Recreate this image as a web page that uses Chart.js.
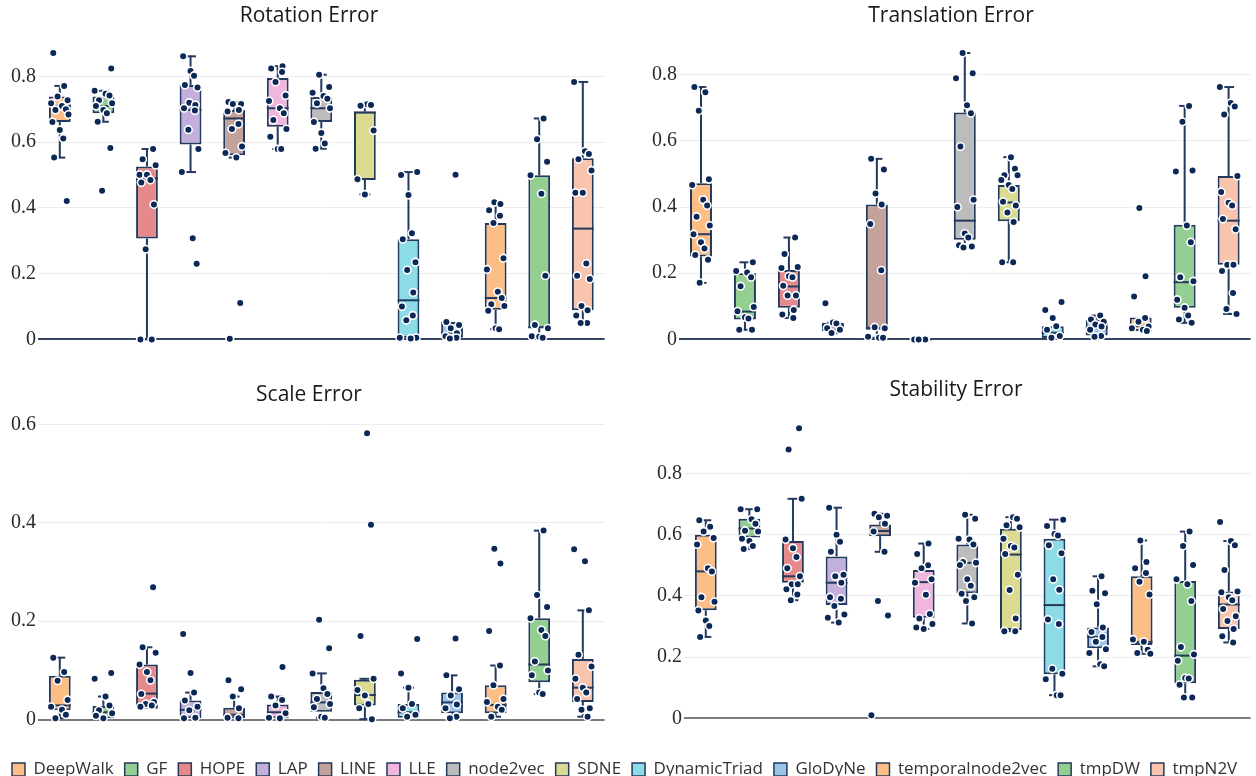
<!DOCTYPE html>
<html>
<head>
<meta charset="utf-8">
<script src="https://cdn.jsdelivr.net/npm/chart.js@4.4.0/dist/chart.umd.min.js"></script>
<style>
  body { margin: 0; background: #fff; width: 1256px; height: 776px; overflow: hidden; position: relative; }
  canvas { position: absolute; }
</style>
</head>
<body>
<canvas id="rot" width="602" height="360" style="left:8px;top:0"></canvas>
<canvas id="tra" width="605" height="360" style="left:651px;top:0"></canvas>
<canvas id="sca" width="602" height="364" style="left:8px;top:380px"></canvas>
<canvas id="sta" width="600" height="366" style="left:656px;top:376px"></canvas>
<canvas id="leg" width="1256" height="26" style="left:0;top:750px"></canvas>
<script>
const methods = ["DeepWalk", "GF", "HOPE", "LAP", "LINE", "LLE", "node2vec", "SDNE",
  "DynamicTriad", "GloDyNe", "temporalnode2vec", "tmpDW", "tmpN2V"];
const fills = ["#fdbe86", "#93cf91", "#e6898a", "#c3afdb", "#c3a29b", "#efb7de", "#bcbcbc",
  "#dadb91", "#8cdce8", "#9cc3e8", "#fdbe86", "#93cf91", "#f8c4ad"];

// Rotation Error
const rotPoints = [
  [0.871, 0.771, 0.739, 0.727, 0.718, 0.71, 0.70, 0.698, 0.684, 0.661, 0.637, 0.611, 0.553, 0.421],
  [0.824, 0.756, 0.747, 0.742, 0.727, 0.718, 0.71, 0.698, 0.688, 0.662, 0.582, 0.452],
  [0.579, 0.548, 0.53, 0.501, 0.501, 0.485, 0.477, 0.41, 0.274, 0, 0],
  [0.861, 0.816, 0.802, 0.774, 0.766, 0.72, 0.713, 0.703, 0.696, 0.638, 0.579, 0.509, 0.308, 0.23],
  [0.722, 0.716, 0.716, 0.698, 0.693, 0.655, 0.64, 0.587, 0.567, 0.553, 0.111, 0.002],
  [0.831, 0.824, 0.813, 0.783, 0.742, 0.725, 0.703, 0.688, 0.667, 0.64, 0.616, 0.579, 0.579],
  [0.805, 0.768, 0.75, 0.74, 0.732, 0.718, 0.703, 0.661, 0.628, 0.596, 0.58],
  [0.715, 0.713, 0.711, 0.635, 0.487, 0.441],
  [0.509, 0.5, 0.439, 0.323, 0.305, 0.235, 0.211, 0.143, 0.1, 0.073, 0.058, 0.005, 0.005, 0.003],
  [0.501, 0.053, 0.044, 0.034, 0.019, 0.01, 0.005, 0.003],
  [0.417, 0.412, 0.393, 0.376, 0.354, 0.247, 0.213, 0.145, 0.126, 0.107, 0.102, 0.087, 0.034, 0.031],
  [0.672, 0.609, 0.54, 0.499, 0.443, 0.194, 0.044, 0.034, 0.01, 0.008, 0.005],
  [0.783, 0.572, 0.564, 0.548, 0.514, 0.446, 0.446, 0.231, 0.194, 0.184, 0.102, 0.089, 0.073, 0.05, 0.05]
];
const rotQ1  = [0.661, 0.688, 0.307, 0.593, 0.56, 0.647, 0.661, 0.485, 0.005, 0.005, 0.09, 0.034, 0.089];
const rotMed = [0.71, 0.71, 0.49, 0.698, 0.672, 0.703, 0.703, 0.69, 0.119, 0.02, 0.126, 0.037, 0.337];
const rotQ3  = [0.739, 0.739, 0.526, 0.774, 0.698, 0.795, 0.737, 0.693, 0.305, 0.053, 0.354, 0.499, 0.551];
const rotLo  = [0.553, 0.662, 0, 0.509, 0.553, 0.579, 0.58, 0.441, 0.003, 0.003, 0.031, 0.005, 0.05];
const rotHi  = [0.771, 0.756, 0.579, 0.861, 0.722, 0.831, 0.805, 0.715, 0.509, 0.053, 0.417, 0.672, 0.783];

// Translation Error
const traPoints = [
  [0.763, 0.747, 0.691, 0.484, 0.467, 0.422, 0.405, 0.371, 0.344, 0.318, 0.294, 0.275, 0.255, 0.241, 0.171],
  [0.233, 0.207, 0.202, 0.188, 0.161, 0.098, 0.085, 0.067, 0.063, 0.029, 0.029],
  [0.308, 0.258, 0.219, 0.216, 0.191, 0.188, 0.162, 0.133, 0.133, 0.089, 0.075, 0.065],
  [0.109, 0.051, 0.048, 0.034, 0.029, 0.019],
  [0.546, 0.514, 0.441, 0.408, 0.349, 0.209, 0.037, 0.034, 0.008, 0.005, 0.005],
  [0, 0, 0, 0],
  [0.866, 0.805, 0.79, 0.708, 0.684, 0.583, 0.422, 0.4, 0.32, 0.308, 0.285, 0.281, 0.278],
  [0.551, 0.516, 0.496, 0.496, 0.482, 0.467, 0.455, 0.416, 0.405, 0.384, 0.355, 0.233, 0.233],
  [0.113, 0.089, 0.065, 0.04, 0.029, 0.01, 0.005],
  [0.072, 0.06, 0.053, 0.045, 0.039, 0.029, 0.01, 0.008],
  [0.397, 0.191, 0.13, 0.065, 0.053, 0.039, 0.034, 0.029, 0.025],
  [0.706, 0.658, 0.511, 0.508, 0.344, 0.294, 0.188, 0.176, 0.12, 0.096, 0.072, 0.06, 0.05],
  [0.763, 0.715, 0.704, 0.68, 0.494, 0.446, 0.413, 0.405, 0.364, 0.333, 0.226, 0.226, 0.207, 0.14, 0.092, 0.077]
];
const traQ1  = [0.251, 0.06, 0.096, 0.025, 0.029, 0, 0.301, 0.357, 0.004, 0.012, 0.025, 0.096, 0.226];
const traMed = [0.318, 0.084, 0.16, 0.04, 0.035, 0, 0.359, 0.414, 0.02, 0.035, 0.04, 0.173, 0.359];
const traQ3  = [0.472, 0.2, 0.21, 0.05, 0.408, 0, 0.686, 0.467, 0.04, 0.06, 0.066, 0.347, 0.494];
const traLo  = [0.171, 0.029, 0.065, 0.019, 0.005, 0, 0.278, 0.233, 0.004, 0.008, 0.025, 0.05, 0.077];
const traHi  = [0.763, 0.233, 0.308, 0.051, 0.546, 0, 0.866, 0.551, 0.04, 0.072, 0.066, 0.706, 0.763];

// Scale Error
const scaPoints = [
  [0.126, 0.097, 0.079, 0.04, 0.026, 0.02, 0.01, 0.003],
  [0.095, 0.083, 0.047, 0.029, 0.019, 0.013, 0.008, 0.003],
  [0.269, 0.147, 0.136, 0.112, 0.097, 0.08, 0.052, 0.036, 0.032, 0.029, 0.026],
  [0.174, 0.095, 0.055, 0.039, 0.026, 0.019, 0.004, 0.003],
  [0.08, 0.062, 0.047, 0.023, 0.004, 0.003],
  [0.107, 0.047, 0.04, 0.029, 0.013, 0.004, 0.003],
  [0.203, 0.145, 0.094, 0.064, 0.052, 0.042, 0.032, 0.025, 0.006, 0.004],
  [0.582, 0.396, 0.17, 0.083, 0.06, 0.049, 0.032, 0.023, 0.001],
  [0.164, 0.094, 0.065, 0.032, 0.023, 0.01, 0.006],
  [0.165, 0.09, 0.062, 0.049, 0.031, 0.023, 0.006, 0.003],
  [0.347, 0.317, 0.18, 0.11, 0.07, 0.042, 0.036, 0.026, 0.02, 0.006],
  [0.384, 0.253, 0.229, 0.206, 0.182, 0.17, 0.118, 0.1, 0.09, 0.055, 0.052],
  [0.346, 0.322, 0.222, 0.132, 0.108, 0.083, 0.065, 0.055, 0.042, 0.023, 0.02, 0.006]
];
const scaQ1  = [0.019, 0.003, 0.022, 0.003, 0.003, 0.003, 0.016, 0.029, 0.004, 0.013, 0.013, 0.076, 0.036];
const scaMed = [0.029, 0.015, 0.053, 0.02, 0.01, 0.015, 0.035, 0.05, 0.015, 0.035, 0.03, 0.112, 0.065];
const scaQ3  = [0.089, 0.028, 0.112, 0.039, 0.024, 0.031, 0.056, 0.081, 0.032, 0.055, 0.07, 0.206, 0.123];
const scaLo  = [0.003, 0.003, 0.022, 0.003, 0.003, 0.003, 0.004, 0.001, 0.004, 0.003, 0.006, 0.052, 0.006];
const scaHi  = [0.126, 0.047, 0.147, 0.055, 0.047, 0.047, 0.094, 0.083, 0.065, 0.09, 0.11, 0.384, 0.222];

// Stability Error
const staPoints = [
  [0.647, 0.626, 0.61, 0.589, 0.568, 0.49, 0.48, 0.396, 0.381, 0.352, 0.32, 0.302, 0.266],
  [0.683, 0.683, 0.65, 0.636, 0.613, 0.61, 0.587, 0.579, 0.563, 0.553],
  [0.947, 0.878, 0.717, 0.584, 0.556, 0.527, 0.49, 0.464, 0.438, 0.438, 0.422, 0.405, 0.386],
  [0.688, 0.6, 0.577, 0.544, 0.469, 0.464, 0.443, 0.396, 0.391, 0.367, 0.339, 0.329, 0.313],
  [0.668, 0.662, 0.657, 0.636, 0.61, 0.544, 0.383, 0.336, 0.01],
  [0.571, 0.537, 0.5, 0.49, 0.454, 0.443, 0.404, 0.341, 0.326, 0.308, 0.297, 0.292],
  [0.665, 0.652, 0.587, 0.584, 0.568, 0.511, 0.508, 0.501, 0.454, 0.433, 0.407, 0.396, 0.383, 0.31],
  [0.657, 0.652, 0.631, 0.624, 0.587, 0.563, 0.558, 0.537, 0.469, 0.419, 0.326, 0.285, 0.285],
  [0.649, 0.628, 0.602, 0.597, 0.565, 0.539, 0.454, 0.42, 0.323, 0.308, 0.162, 0.146, 0.128, 0.076, 0.076],
  [0.464, 0.417, 0.409, 0.373, 0.297, 0.282, 0.266, 0.25, 0.226, 0.214, 0.177, 0.17],
  [0.581, 0.511, 0.49, 0.475, 0.446, 0.405, 0.258, 0.25, 0.224, 0.214, 0.211],
  [0.61, 0.563, 0.501, 0.454, 0.438, 0.383, 0.233, 0.209, 0.188, 0.132, 0.13, 0.11, 0.068, 0.068],
  [0.641, 0.579, 0.565, 0.485, 0.414, 0.412, 0.396, 0.386, 0.357, 0.334, 0.318, 0.292, 0.268, 0.248]
];
const staQ1  = [0.353, 0.591, 0.443, 0.37, 0.595, 0.329, 0.409, 0.289, 0.144, 0.229, 0.24, 0.115, 0.292];
const staMed = [0.48, 0.62, 0.464, 0.443, 0.612, 0.445, 0.508, 0.535, 0.37, 0.266, 0.25, 0.205, 0.372];
const staQ3  = [0.6, 0.652, 0.579, 0.529, 0.633, 0.485, 0.568, 0.619, 0.587, 0.297, 0.464, 0.449, 0.414];
const staLo  = [0.266, 0.553, 0.386, 0.313, 0.544, 0.292, 0.31, 0.285, 0.076, 0.17, 0.211, 0.068, 0.248];
const staHi  = [0.647, 0.683, 0.717, 0.688, 0.668, 0.571, 0.665, 0.657, 0.649, 0.464, 0.581, 0.61, 0.579];

const ticks08 = [0, 0.2, 0.4, 0.6, 0.8];
const ticks06 = [0, 0.2, 0.4, 0.6];

// horizontal spread of the points inside a box (category units)
const jitter = [-0.15, 0.1, -0.05, 0.18, -0.2, 0.05, 0.14, -0.1, 0.2, -0.17, 0.0, 0.08, -0.13, 0.16, -0.03, 0.11];

const NAVY = "#23395d";
const DOT = "#0c2856";

function whiskers(st) {
  return {
    id: "whiskers",
    afterDatasetDraw(chart, args) {
      if (args.meta.type !== "bar") return;
      const y = chart.scales.y, ctx = chart.ctx;
      const seg = (x0, y0, x1, y1) => { ctx.beginPath(); ctx.moveTo(x0, y0); ctx.lineTo(x1, y1); ctx.stroke(); };
      ctx.save();
      ctx.strokeStyle = NAVY;
      ctx.lineWidth = 2;
      args.meta.data.forEach((bar, i) => {
        const x = bar.x, hw = bar.width / 2;
        const p = v => y.getPixelForValue(v);
        if (st.hi[i] > st.q3[i]) { seg(x, p(st.q3[i]), x, p(st.hi[i])); seg(x - hw / 2, p(st.hi[i]), x + hw / 2, p(st.hi[i])); }
        if (st.lo[i] < st.q1[i]) { seg(x, p(st.q1[i]), x, p(st.lo[i])); seg(x - hw / 2, p(st.lo[i]), x + hw / 2, p(st.lo[i])); }
        seg(x - hw, p(st.med[i]), x + hw, p(st.med[i]));
      });
      ctx.restore();
    }
  };
}

function boxChart(id, o) {
  const pts = [];
  o.points.forEach((vals, i) => vals.forEach((v, k) => pts.push({ x: i + jitter[(k + i * 3) % jitter.length], y: v })));
  return new Chart(document.getElementById(id), {
    type: "bar",
    data: {
      datasets: [
        {
          type: "scatter", data: pts, order: 0,
          pointRadius: 3.8, pointHoverRadius: 3.8, backgroundColor: DOT, borderColor: "#fff", borderWidth: 1.6
        },
        {
          data: o.q1.map((q, i) => ({ x: i, y: [q, o.q3[i]] })), order: 1,
          backgroundColor: fills, borderColor: NAVY, borderWidth: 2, borderSkipped: false,
          barPercentage: 0.5, categoryPercentage: 1
        }
      ]
    },
    options: {
      responsive: false, animation: false, devicePixelRatio: 1,
      layout: { padding: { left: 0, right: o.pr, top: 0, bottom: 0 } },
      plugins: {
        legend: { display: false }, tooltip: { enabled: false },
        title: {
          display: true, text: o.title, color: "#1a1a1a",
          font: { family: "Open Sans", size: 21, weight: "normal" }, padding: o.titlePad
        }
      },
      scales: {
        x: { type: "linear", display: false, offset: false, grid: { offset: false }, min: -0.5, max: 12.5 },
        y: {
          min: o.min, max: o.max,
          afterBuildTicks: s => { s.ticks = o.ticks.map(v => ({ value: v })); },
          afterFit: s => { s.width = o.yw; },
          border: { display: false },
          grid: {
            drawTicks: false,
            color: c => c.tick.value === 0 ? o.zero : "#ececec",
            lineWidth: c => c.tick.value === 0 ? 2 : 1
          },
          ticks: {
            padding: 2, color: "#2b2b2b",
            font: { family: "Liberation Serif", size: 20 },
            callback: v => v === 0 ? "0" : v.toFixed(1)
          }
        }
      }
    },
    plugins: [whiskers(o)]
  });
}

boxChart("rot", {
  title: "Rotation Error", points: rotPoints, q1: rotQ1, med: rotMed, q3: rotQ3, lo: rotLo, hi: rotHi,
  min: -0.02, max: 0.91, ticks: ticks08, zero: "#34465f",
  pr: 0, yw: 30, titlePad: { top: 3.4, bottom: 11.6 }
});
boxChart("tra", {
  title: "Translation Error", points: traPoints, q1: traQ1, med: traMed, q3: traQ3, lo: traLo, hi: traHi,
  min: -0.02, max: 0.9, ticks: ticks08, zero: "#34465f",
  pr: 5, yw: 28, titlePad: { top: 3.4, bottom: 13.15 }
});
boxChart("sca", {
  title: "Scale Error", points: scaPoints, q1: scaQ1, med: scaMed, q3: scaQ3, lo: scaLo, hi: scaHi,
  min: -0.021, max: 0.63, ticks: ticks06, zero: "#7a7a7a",
  pr: 0, yw: 30, titlePad: { top: 2.9, bottom: 1.4 }
});
boxChart("sta", {
  title: "Stability Error", points: staPoints, q1: staQ1, med: staMed, q3: staQ3, lo: staLo, hi: staHi,
  min: -0.03125, max: 0.99, ticks: ticks08, zero: "#7a7a7a",
  pr: 0, yw: 28, titlePad: { top: 1.4, bottom: 12.6 }
});

new Chart(document.getElementById("leg"), {
  type: "bar",
  data: {
    labels: [],
    datasets: methods.map((m, i) => ({ label: m, data: [], backgroundColor: fills[i], borderColor: NAVY, borderWidth: 1.5 }))
  },
  options: {
    responsive: false, animation: false, devicePixelRatio: 1,
    layout: { padding: { left: 1 } },
    scales: { x: { display: false }, y: { display: false } },
    plugins: {
      tooltip: { enabled: false },
      legend: {
        position: "top", align: "start", maxHeight: 60,
        labels: { boxWidth: 13, boxHeight: 13, padding: 11, color: "#333", font: { family: "Open Sans", size: 17 } }
      }
    }
  }
});
</script>
</body>
</html>
